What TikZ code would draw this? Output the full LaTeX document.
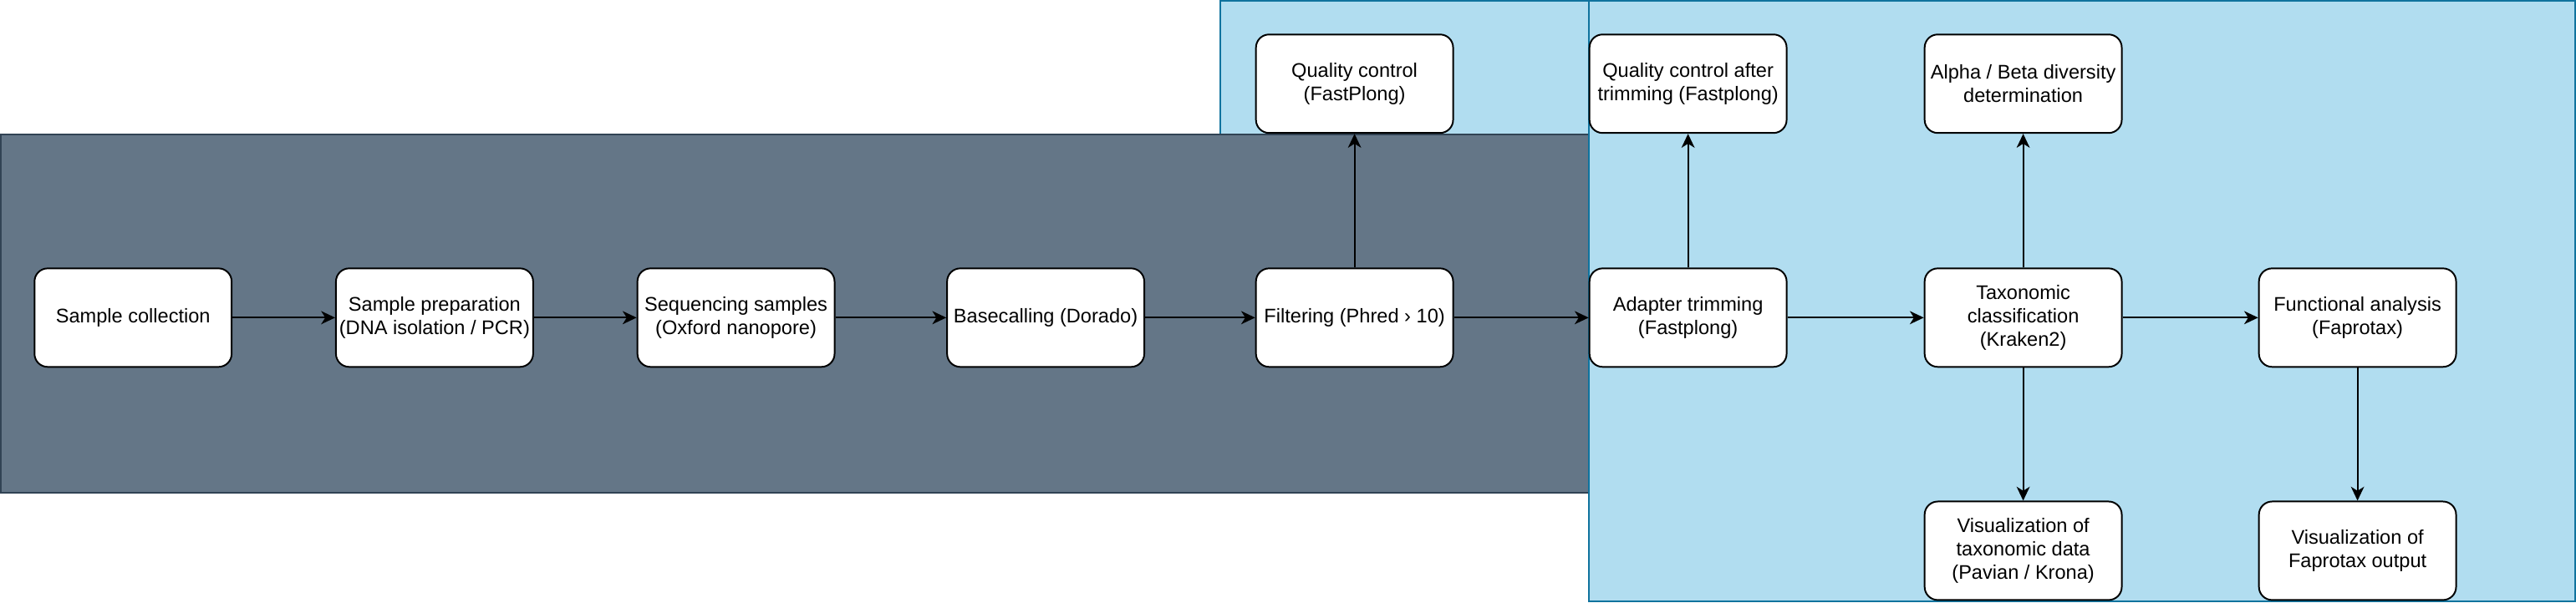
\documentclass[tikz,border=0pt]{standalone}
\usepackage{fontspec}
\setmainfont{Liberation Sans}
\usetikzlibrary{arrows.meta}
\definecolor{slateFill}{HTML}{647687}
\definecolor{slateLine}{HTML}{314354}
\definecolor{skyFill}{HTML}{B1DDF0}
\definecolor{skyLine}{HTML}{10739E}
\tikzset{
  stepbox/.style={draw=black, fill=white, rounded corners=8pt, line width=1pt,
    minimum width=120pt, minimum height=60pt, inner sep=1pt, align=center,
    font=\fontsize{12}{14.4}\selectfont},
  flow/.style={line width=1pt, -{Stealth[length=8.5pt,width=8pt,inset=2.5pt]}}
}

\begin{document}
\begin{tikzpicture}[x=1pt,y=1pt]
    \useasboundingbox (0,0) rectangle (1568,367);

    % Panels
    \filldraw[fill=skyFill, draw=skyLine, line width=1pt] (743,366.5) rectangle (967,150);
    \filldraw[fill=slateFill, draw=slateLine, line width=1pt] (0.5,285) rectangle (967,67);
    \filldraw[fill=skyFill, draw=skyLine, line width=1pt] (967,366.5) rectangle (1567.5,0.5);

    % Main row
    \node[stepbox] (collect) at (81,173.5) {Sample collection};
    \node[stepbox] (prep) at (264.5,173.5) {Sample preparation\\(DNA isolation / PCR)};
    \node[stepbox] (seq) at (448,173.5) {Sequencing samples\\(Oxford nanopore)};
    \node[stepbox] (basecall) at (636.5,173.5) {Basecalling (Dorado)};
    \node[stepbox] (filter) at (824.5,173.5) {Filtering (Phred › 10)};
    \node[stepbox] (trim) at (1027.5,173.5) {Adapter trimming\\(Fastplong)};
    \node[stepbox] (taxo) at (1231.5,173.5) {Taxonomic\\classification\\(Kraken2)};
    \node[stepbox] (func) at (1435,173.5) {Functional analysis\\(Faprotax)};

    % Top row
    \node[stepbox] (qc) at (824.5,316) {Quality control\\(FastPlong)};
    \node[stepbox] (qctrim) at (1027.5,316) {Quality control after\\trimming (Fastplong)};
    \node[stepbox] (diversity) at (1231.5,316) {Alpha / Beta diversity\\determination};

    % Bottom row
    \node[stepbox] (vistaxo) at (1231.5,31.5) {Visualization of\\taxonomic data\\(Pavian / Krona)};
    \node[stepbox] (visfunc) at (1435,31.5) {Visualization of\\Faprotax output};

    % Connectors
    \draw[flow] (collect) -- (prep);
    \draw[flow] (prep) -- (seq);
    \draw[flow] (seq) -- (basecall);
    \draw[flow] (basecall) -- (filter);
    \draw[flow] (filter) -- (trim);
    \draw[flow] (trim) -- (taxo);
    \draw[flow] (taxo) -- (func);
    \draw[flow] (filter) -- (qc);
    \draw[flow] (trim) -- (qctrim);
    \draw[flow] (taxo) -- (diversity);
    \draw[flow] (taxo) -- (vistaxo);
    \draw[flow] (func) -- (visfunc);
\end{tikzpicture}
\end{document}
